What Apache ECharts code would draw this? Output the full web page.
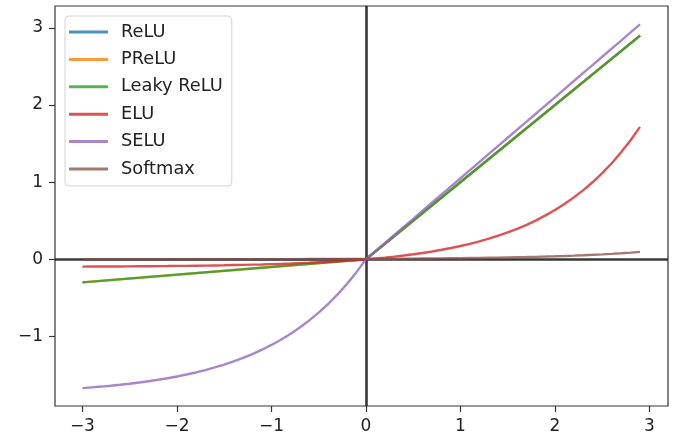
<!DOCTYPE html>
<html>
<head>
<meta charset="utf-8">
<script src="https://cdn.jsdelivr.net/npm/echarts@6/dist/echarts.min.js"></script>
<style>html,body{margin:0;padding:0;background:#fff}#c{width:677px;height:436px}</style>
</head>
<body>
<div id="c"></div>
<script>
// ---- data ----
const seriesNames = ['ReLU', 'PReLU', 'Leaky ReLU', 'ELU', 'SELU', 'Softmax'];
const xTicks = [-3, -2, -1, 0, 1, 2, 3];
const yTicks = [-1, 0, 1, 2, 3];

const xLinear = [-3, 0, 2.9];
const relu = [0, 0, 2.9];
const prelu = [-0.3, 0, 2.9];
const leakyRelu = [-0.3, 0, 2.9];

const xCurve = [-3.0, -2.9, -2.8, -2.7, -2.6, -2.5, -2.4, -2.3, -2.2, -2.1,
  -2.0, -1.9, -1.8, -1.7, -1.6, -1.5, -1.4, -1.3, -1.2, -1.1,
  -1.0, -0.9, -0.8, -0.7, -0.6, -0.5, -0.4, -0.3, -0.2, -0.1,
  0.0, 0.1, 0.2, 0.3, 0.4, 0.5, 0.6, 0.7, 0.8, 0.9,
  1.0, 1.1, 1.2, 1.3, 1.4, 1.5, 1.6, 1.7, 1.8, 1.9,
  2.0, 2.1, 2.2, 2.3, 2.4, 2.5, 2.6, 2.7, 2.8, 2.9];

const elu = [-0.095, -0.094, -0.094, -0.093, -0.093, -0.092, -0.091, -0.090, -0.089, -0.088,
  -0.086, -0.085, -0.083, -0.082, -0.080, -0.078, -0.075, -0.073, -0.070, -0.067,
  -0.063, -0.059, -0.055, -0.050, -0.045, -0.039, -0.033, -0.026, -0.018, -0.010,
  0.000, 0.011, 0.022, 0.035, 0.049, 0.065, 0.082, 0.101, 0.123, 0.146,
  0.172, 0.200, 0.232, 0.267, 0.306, 0.348, 0.395, 0.447, 0.505, 0.569,
  0.639, 0.717, 0.803, 0.897, 1.002, 1.118, 1.246, 1.388, 1.544, 1.717];

const selu = [-1.671, -1.661, -1.651, -1.640, -1.628, -1.614, -1.599, -1.582, -1.563, -1.543,
  -1.520, -1.495, -1.468, -1.437, -1.403, -1.366, -1.325, -1.279, -1.229, -1.173,
  -1.111, -1.043, -0.968, -0.885, -0.793, -0.692, -0.580, -0.456, -0.319, -0.167,
  0.000, 0.105, 0.210, 0.315, 0.420, 0.525, 0.630, 0.736, 0.841, 0.946,
  1.051, 1.156, 1.261, 1.366, 1.471, 1.576, 1.681, 1.786, 1.891, 1.996,
  2.101, 2.207, 2.312, 2.417, 2.522, 2.627, 2.732, 2.837, 2.942, 3.047];

const softmax = [0.00026, 0.00029, 0.00032, 0.00035, 0.00039, 0.00043, 0.00048, 0.00053, 0.00058, 0.00064,
  0.00071, 0.00079, 0.00087, 0.00096, 0.00106, 0.00117, 0.00129, 0.00143, 0.00158, 0.00175,
  0.00193, 0.00213, 0.00236, 0.00261, 0.00288, 0.00318, 0.00352, 0.00389, 0.00430, 0.00475,
  0.00525, 0.00580, 0.00641, 0.00709, 0.00783, 0.00865, 0.00956, 0.01057, 0.01168, 0.01291,
  0.01427, 0.01577, 0.01743, 0.01926, 0.02129, 0.02352, 0.02600, 0.02873, 0.03176, 0.03509,
  0.03879, 0.04286, 0.04737, 0.05236, 0.05786, 0.06395, 0.07067, 0.07810, 0.08632, 0.09540];

const colors = ['#1f77b4', '#ff7f0e', '#2ca02c', '#d62728', '#9467bd', '#8c564b'];

// ---- build ----
const zip = (xs, ys) => xs.map((x, i) => [x, ys[i]]);
const seriesData = [
  zip(xLinear, relu),
  zip(xLinear, prelu),
  zip(xLinear, leakyRelu),
  zip(xCurve, elu),
  zip(xCurve, selu),
  zip(xCurve, softmax)
];

const fontFamily = 'DejaVu Sans';
const fmt = v => (v < 0 ? '\u2212' + (-v) : String(v));

const series = seriesNames.map((name, i) => ({
  name: name,
  type: 'line',
  data: seriesData[i],
  showSymbol: false,
  symbol: 'none',
  smooth: false,
  animation: false,
  lineStyle: { color: colors[i], width: 2.4, opacity: 0.8 },
  itemStyle: { color: colors[i], opacity: 0.8 },
  z: 2 + i
}));

series.push({
  name: 'axes-lines',
  type: 'line',
  data: [],
  animation: false,
  z: 20,
  markLine: {
    silent: true,
    symbol: 'none',
    animation: false,
    label: { show: false },
    lineStyle: { color: '#222', width: 2.6, type: 'solid', opacity: 0.9 },
    emphasis: { disabled: true },
    data: [{ yAxis: 0 }, { xAxis: 0 }]
  }
});

const chart = echarts.init(document.getElementById('c'), null, { renderer: 'canvas' });
chart.setOption({
  backgroundColor: '#fff',
  animation: false,
  textStyle: { fontFamily: fontFamily },
  grid: {
    left: 55, right: 9, top: 6, bottom: 30,
    show: true, borderColor: '#333', borderWidth: 1.2, backgroundColor: 'transparent',
    containLabel: false
  },
  legend: {
    data: seriesNames,
    orient: 'vertical',
    left: 65,
    top: 16,
    icon: 'rect',
    itemWidth: 39,
    itemHeight: 3,
    itemGap: 7.4,
    padding: [6, 9, 7, 4],
    backgroundColor: 'rgba(255,255,255,0.85)',
    borderColor: '#d3d3d3',
    borderWidth: 1,
    borderRadius: 4,
    textStyle: { fontFamily: fontFamily, fontSize: 17.8, color: '#222', lineHeight: 20, padding: [0, 0, 0, 8] }
  },
  xAxis: {
    type: 'value',
    min: -3.29,
    max: 3.196,
    splitLine: { show: false },
    axisLine: { show: false, onZero: false },
    axisTick: { show: true, length: 6, lineStyle: { color: '#333', width: 1.2 }, customValues: xTicks },
    axisLabel: {
      customValues: xTicks, formatter: fmt, margin: 12,
      fontFamily: fontFamily, fontSize: 17, color: '#222'
    }
  },
  yAxis: {
    type: 'value',
    min: -1.903,
    max: 3.285,
    splitLine: { show: false },
    axisLine: { show: false, onZero: false },
    axisTick: { show: true, length: 6, lineStyle: { color: '#333', width: 1.2 }, customValues: yTicks },
    axisLabel: {
      customValues: yTicks, formatter: fmt, margin: 12,
      fontFamily: fontFamily, fontSize: 17, color: '#222'
    }
  },
  series: series
});
</script>
</body>
</html>
